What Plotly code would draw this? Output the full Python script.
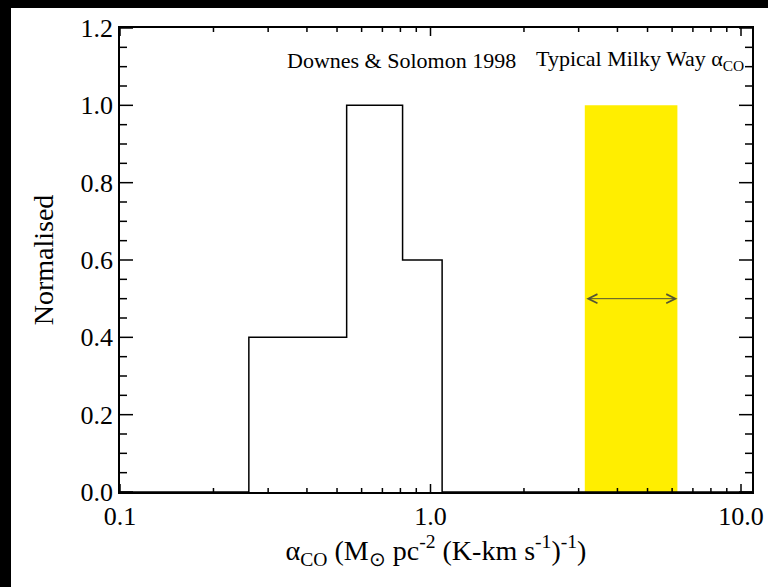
import math
import plotly.graph_objects as go

# Histogram (Downes & Solomon 1998)
bin_edges = [0.26, 0.537, 0.813, 1.09]
bin_values = [0.4, 1.0, 0.6]

# Typical Milky Way alpha_CO range
mw_low, mw_high = 3.14, 6.24
mw_height = 1.0
arrow_y = 0.5

x_range = [0.1, 10.85]
y_range = [0.0, 1.2]
x_tickvals = [0.1, 1.0, 10.0]
x_ticktext = ["0.1", "1.0", "10.0"]
x_minor = [0.2, 0.3, 0.4, 0.5, 0.6, 0.7, 0.8, 0.9, 2, 3, 4, 5, 6, 7, 8, 9]
y_major = [0.0, 0.2, 0.4, 0.6, 0.8, 1.0, 1.2]
y_minor = [0.05, 0.1, 0.15, 0.25, 0.3, 0.35, 0.45, 0.5, 0.55, 0.65, 0.7, 0.75,
           0.85, 0.9, 0.95, 1.05, 1.1, 1.15]

FONT = "Liberation Serif"
W, H = 768, 587
ML, MR, MT, MB = 120, 16, 28, 95
PW, PH = W - ML - MR, H - MT - MB

lx0, lx1 = math.log10(x_range[0]), math.log10(x_range[1])
px_per_dec = PW / (lx1 - lx0)
y_per_px = (y_range[1] - y_range[0]) / PH

fig = go.Figure()

fig.add_trace(go.Scatter(
    x=[mw_low, mw_high, mw_high, mw_low, mw_low],
    y=[0, 0, mw_height, mw_height, 0],
    fill="toself", fillcolor="#FFEE00", mode="none",
    hoverinfo="skip", showlegend=False))

hx = [x_range[0]] + bin_edges + [x_range[1]]
hy = [0] + bin_values + [0, 0]
fig.add_trace(go.Scatter(
    x=hx, y=hy, mode="lines", line=dict(color="black", width=1.5, shape="hv"),
    hoverinfo="skip", showlegend=False))

# inward tick marks (IDL style) on all four sides
tx, ty = [], []
for vals, ln in ((y_major, 13), (y_minor, 7)):
    for v in vals:
        tx += [x_range[0], x_range[0] * 10 ** (ln / px_per_dec), None]
        ty += [v, v, None]
        tx += [x_range[1], x_range[1] / 10 ** (ln / px_per_dec), None]
        ty += [v, v, None]
for vals, ln in ((x_tickvals, 8), (x_minor, 4)):
    for v in vals:
        tx += [v, v, None]
        ty += [y_range[0], y_range[0] + ln * y_per_px, None]
        tx += [v, v, None]
        ty += [y_range[1], y_range[1] - ln * y_per_px, None]
fig.add_trace(go.Scatter(
    x=tx, y=ty, mode="lines", line=dict(color="black", width=1.5),
    hoverinfo="skip", showlegend=False, cliponaxis=False))

fig.update_layout(
    width=W, height=H,
    paper_bgcolor="white", plot_bgcolor="white",
    margin=dict(l=ML, r=MR, t=MT, b=MB, autoexpand=False),
    font=dict(family=FONT, color="black", size=26),
    shapes=[
        dict(type="rect", xref="paper", yref="paper", layer="above",
             x0=-ML / PW, x1=(11 - ML) / PW, y0=-MB / PH, y1=1 + MT / PH,
             fillcolor="black", line=dict(width=0)),
        dict(type="rect", xref="paper", yref="paper", layer="above",
             x0=-ML / PW, x1=1 + MR / PW, y0=1 + (MT - 8) / PH, y1=1 + MT / PH,
             fillcolor="black", line=dict(width=0)),
    ],
)

fig.add_annotation(
    x=math.log10(mw_high), y=arrow_y, ax=math.log10(mw_low), ay=arrow_y,
    xref="x", yref="y", axref="x", ayref="y", text="", showarrow=True,
    arrowhead=5, startarrowhead=5, arrowside="end+start",
    arrowsize=1.8, startarrowsize=1.8, arrowwidth=1, arrowcolor="#555533")

fig.add_annotation(x=(401 - ML) / PW, y=(PH - 60 + MT) / PH, xref="paper", yref="paper",
                   text="Downes & Solomon 1998", showarrow=False,
                   font=dict(family=FONT, size=22), xanchor="center", yanchor="middle")
fig.add_annotation(x=(746 - ML) / PW, y=(PH - 60 + MT) / PH, xref="paper", yref="paper",
                   text="Typical Milky Way α<sub>CO</sub>", showarrow=False,
                   font=dict(family=FONT, size=22), xanchor="right", yanchor="middle")

fig.update_xaxes(
    type="log", range=[lx0, lx1],
    tickmode="array", tickvals=x_tickvals, ticktext=x_ticktext, ticks="",
    showline=True, linecolor="black", linewidth=1.5, mirror=True,
    showgrid=False, zeroline=False, automargin=False,
    tickfont=dict(family=FONT, size=26),
    title=dict(text="α<sub>CO</sub> (M<sub>⊙</sub> pc<sup>-2</sup> (K-km s<sup>-1</sup>)<sup>-1</sup>)",
               font=dict(family=FONT, size=28), standoff=0),
)
fig.update_yaxes(
    range=y_range, tickmode="array", tickvals=y_major,
    ticktext=[f"{v:.1f}" for v in y_major], ticks="",
    showline=True, linecolor="black", linewidth=1.5, mirror=True,
    showgrid=False, zeroline=False, automargin=False,
    tickfont=dict(family=FONT, size=26),
    title=dict(text="Normalised", font=dict(family=FONT, size=28), standoff=19),
)

fig.write_html("out.html",
               post_script="document.body.style.margin='0';document.body.style.overflow='hidden';")
